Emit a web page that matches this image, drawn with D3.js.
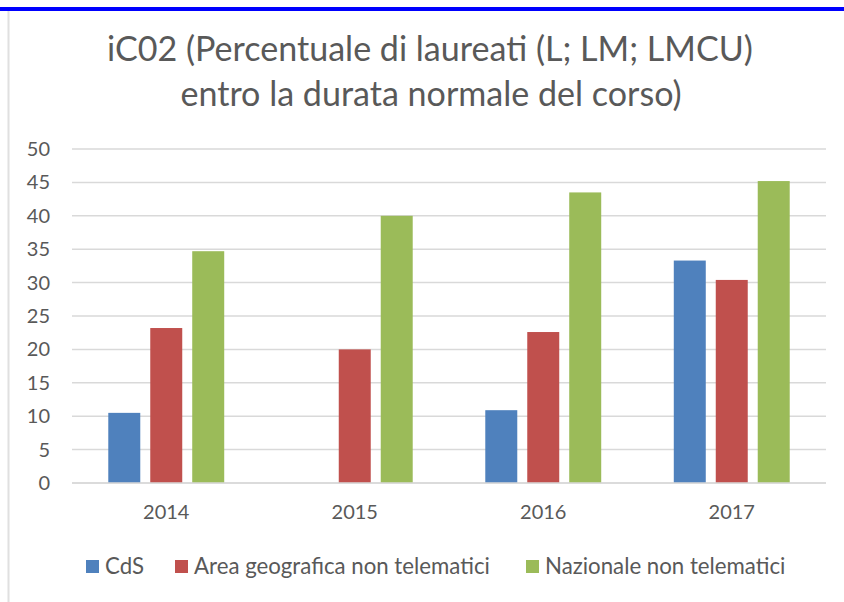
<!DOCTYPE html>
<html>
<head>
<meta charset="utf-8">
<script src="https://cdn.jsdelivr.net/npm/d3@7"></script>
<style>
  html, body { margin: 0; padding: 0; background: #fff; }
  svg { display: block; }
  text { font-family: Lato, "Open Sans", sans-serif; fill: #595959; }
</style>
</head>
<body>
<svg id="chart" width="844" height="602"></svg>
<script>
const titleLines = ["iC02 (Percentuale di laureati (L; LM; LMCU)", "entro la durata normale del corso)"];
const categories = ["2014", "2015", "2016", "2017"];
const seriesNames = ["CdS", "Area geografica non telematici", "Nazionale non telematici"];
const seriesColors = ["#4F81BD", "#C0504D", "#9BBB59"];
const cdsValues = [10.5, null, 10.9, 33.3];
const areaValues = [23.2, 20.0, 22.6, 30.4];
const nazionaleValues = [34.7, 40.0, 43.5, 45.2];
const yTicks = [0, 5, 10, 15, 20, 25, 30, 35, 40, 45, 50];

const seriesValues = [cdsValues, areaValues, nazionaleValues];

const svg = d3.select("#chart");

// top blue rule and left border
svg.append("rect").attr("x", 0).attr("y", 7).attr("width", 844).attr("height", 4).attr("fill", "#0000FF");
svg.append("rect").attr("x", 7.5).attr("y", 11).attr("width", 2).attr("height", 591).attr("fill", "#e0e0e0");

// title
const t1 = svg.append("text").attr("x", 430).attr("y", 61).attr("text-anchor", "middle")
  .style("font-size", "30px").text(titleLines[0]);
const w1 = t1.node().getComputedTextLength();
const fs = 30 * 646 / w1;
t1.style("font-size", fs + "px");
svg.append("text").attr("x", 431).attr("y", 106).attr("text-anchor", "middle")
  .style("font-size", fs + "px").text(titleLines[1]);

// scales
const y = d3.scaleLinear().domain([0, 50]).range([483, 149]);
const x0 = d3.scaleBand().domain(categories).range([72, 826]).paddingInner(0.385).paddingOuter(0.1925);
const x1 = d3.scaleBand().domain(d3.range(seriesNames.length)).range([0, x0.bandwidth()]).paddingInner(0.238).paddingOuter(0);

// gridlines
const grid = svg.append("g");
grid.selectAll("line").data(yTicks).join("line")
  .attr("x1", 72).attr("x2", 826)
  .attr("y1", d => y(d)).attr("y2", d => y(d))
  .attr("stroke", "#d9d9d9").attr("stroke-width", 1.5);

// y axis labels
const yAxis = d3.axisLeft(y).tickValues(yTicks).tickSize(0).tickPadding(0);
const yg = svg.append("g").attr("transform", "translate(50,0)").call(yAxis);
yg.select(".domain").remove();
yg.selectAll("text").style("font-size", "20px").attr("fill", "#595959").attr("font-family", "Lato, sans-serif");

// bars
const groups = svg.append("g").selectAll("g").data(categories).join("g")
  .attr("transform", d => `translate(${x0(d)},0)`);
groups.selectAll("rect")
  .data((c, ci) => seriesValues.map((vals, si) => ({ si, v: vals[ci] })).filter(d => d.v !== null))
  .join("rect")
  .attr("x", d => x1(d.si))
  .attr("width", x1.bandwidth())
  .attr("y", d => y(d.v))
  .attr("height", d => y(0) - y(d.v))
  .attr("fill", d => seriesColors[d.si]);

// baseline
svg.append("line").attr("x1", 72).attr("x2", 826).attr("y1", y(0)).attr("y2", y(0))
  .attr("stroke", "#d9d9d9").attr("stroke-width", 1.5);

// x axis labels
const xAxis = d3.axisBottom(x0).tickSize(0).tickPadding(0);
const xg = svg.append("g").attr("transform", "translate(0,505)").call(xAxis);
xg.select(".domain").remove();
xg.selectAll("text").style("font-size", "20px").attr("fill", "#595959").attr("font-family", "Lato, sans-serif")
  .attr("dy", "0.71em");

// legend
const legendX = [86, 175, 526];
const leg = svg.append("g").selectAll("g").data(seriesNames).join("g")
  .attr("transform", (d, i) => `translate(${legendX[i]},0)`);
leg.append("rect").attr("x", 0).attr("y", 560).attr("width", 13).attr("height", 13)
  .attr("fill", (d, i) => seriesColors[i]);
const legTexts = leg.append("text").attr("x", 19).attr("y", 574).style("font-size", "20px").text(d => d);
const wArea = legTexts.filter((d, i) => i === 1).node().getComputedTextLength();
const lfs = 20 * 296 / wArea;
legTexts.style("font-size", lfs + "px");
</script>
</body>
</html>
